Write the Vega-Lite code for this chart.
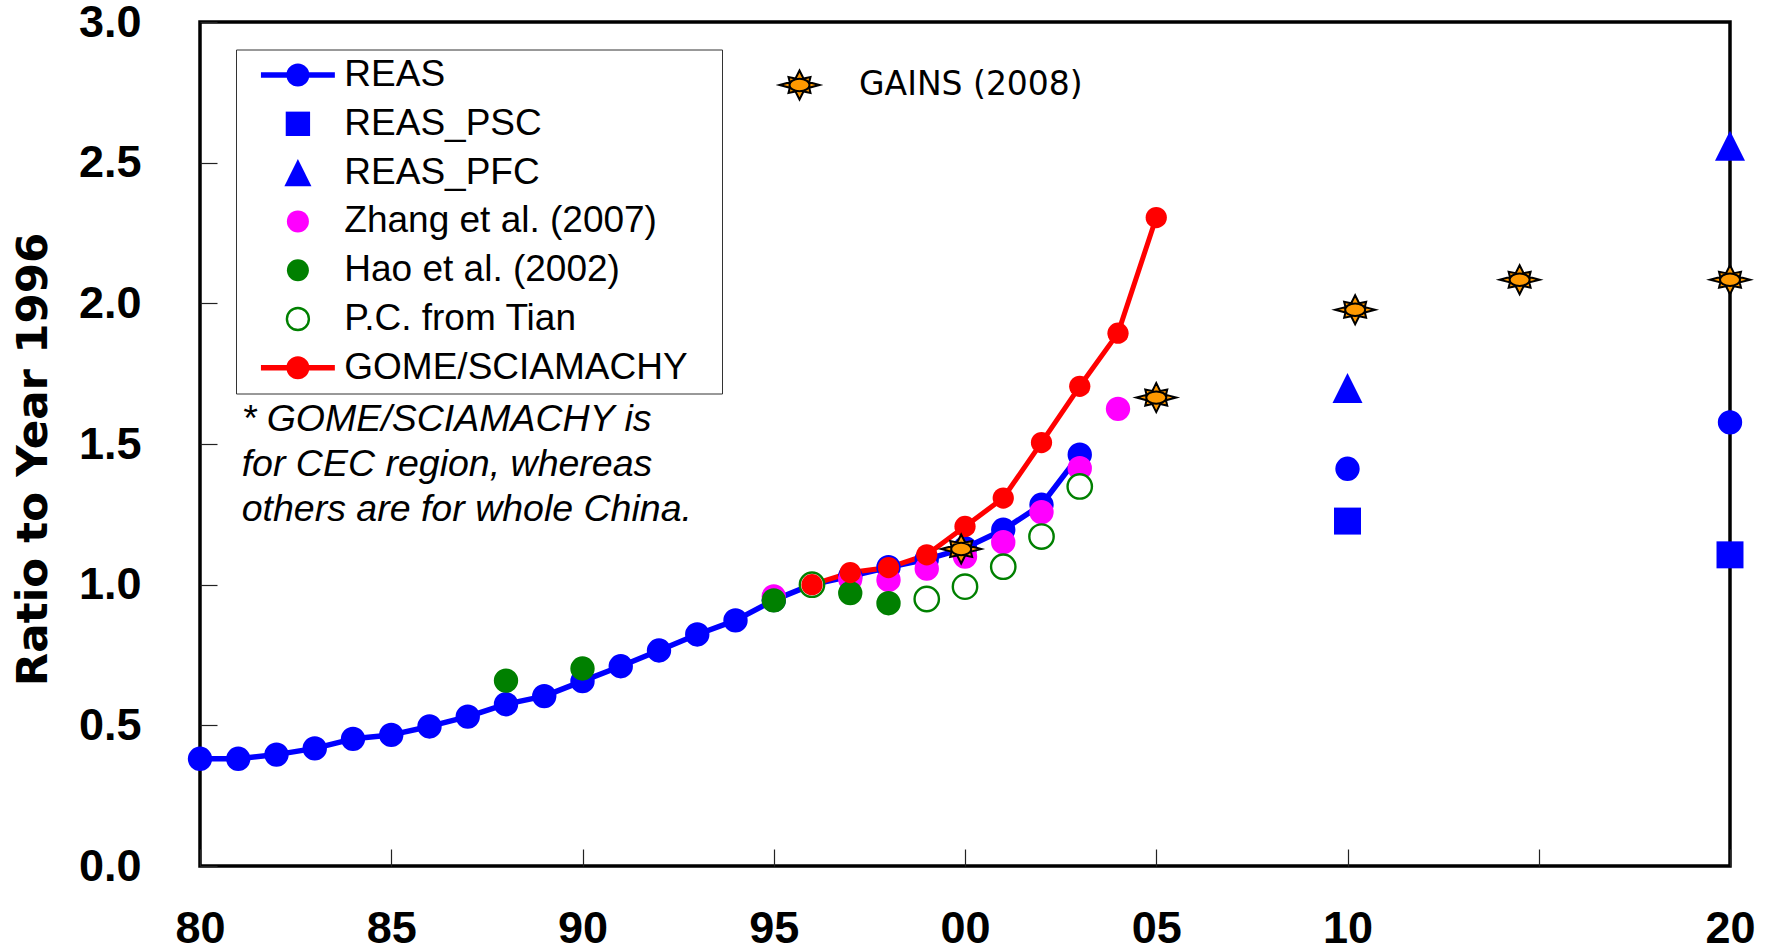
{
  "$schema": "https://vega.github.io/schema/vega-lite/v6.json",
  "width": 1530,
  "height": 844,
  "autosize": {"type": "none"},
  "padding": {"left": 200, "top": 22, "right": 37, "bottom": 85},
  "background": "white",
  "config": {
    "view": {"stroke": "black", "strokeWidth": 3.5},
    "axis": {"grid": false, "domain": false}
  },
  "datasets": {
    "pts": [
      {"series": "REAS", "year": 1980, "ratio": 0.381},
      {"series": "REAS", "year": 1981, "ratio": 0.381},
      {"series": "REAS", "year": 1982, "ratio": 0.396},
      {"series": "REAS", "year": 1983, "ratio": 0.418},
      {"series": "REAS", "year": 1984, "ratio": 0.452},
      {"series": "REAS", "year": 1985, "ratio": 0.466},
      {"series": "REAS", "year": 1986, "ratio": 0.496},
      {"series": "REAS", "year": 1987, "ratio": 0.531},
      {"series": "REAS", "year": 1988, "ratio": 0.575},
      {"series": "REAS", "year": 1989, "ratio": 0.604},
      {"series": "REAS", "year": 1990, "ratio": 0.657},
      {"series": "REAS", "year": 1991, "ratio": 0.71},
      {"series": "REAS", "year": 1992, "ratio": 0.766},
      {"series": "REAS", "year": 1993, "ratio": 0.823},
      {"series": "REAS", "year": 1994, "ratio": 0.873},
      {"series": "REAS", "year": 1995, "ratio": 0.945},
      {"series": "REAS", "year": 1996, "ratio": 1.0},
      {"series": "REAS", "year": 1997, "ratio": 1.03},
      {"series": "REAS", "year": 1998, "ratio": 1.062},
      {"series": "REAS", "year": 1999, "ratio": 1.09},
      {"series": "REAS", "year": 2000, "ratio": 1.13},
      {"series": "REAS", "year": 2001, "ratio": 1.195},
      {"series": "REAS", "year": 2002, "ratio": 1.284},
      {"series": "REAS", "year": 2003, "ratio": 1.462},
      {"series": "REAS", "year": 2010, "ratio": 1.412},
      {"series": "REAS", "year": 2020, "ratio": 1.577},
      {"series": "REAS_PSC", "year": 2010, "ratio": 1.226},
      {"series": "REAS_PSC", "year": 2020, "ratio": 1.106},
      {"series": "REAS_PFC", "year": 2010, "ratio": 1.699},
      {"series": "REAS_PFC", "year": 2020, "ratio": 2.56},
      {"series": "Zhang et al. (2007)", "year": 1995, "ratio": 0.958},
      {"series": "Zhang et al. (2007)", "year": 1996, "ratio": 1.0},
      {"series": "Zhang et al. (2007)", "year": 1997, "ratio": 1.02},
      {"series": "Zhang et al. (2007)", "year": 1998, "ratio": 1.017},
      {"series": "Zhang et al. (2007)", "year": 1999, "ratio": 1.057},
      {"series": "Zhang et al. (2007)", "year": 2000, "ratio": 1.1},
      {"series": "Zhang et al. (2007)", "year": 2001, "ratio": 1.151},
      {"series": "Zhang et al. (2007)", "year": 2002, "ratio": 1.258},
      {"series": "Zhang et al. (2007)", "year": 2003, "ratio": 1.414},
      {"series": "Zhang et al. (2007)", "year": 2004, "ratio": 1.625},
      {"series": "Hao et al. (2002)", "year": 1988, "ratio": 0.659},
      {"series": "Hao et al. (2002)", "year": 1990, "ratio": 0.702},
      {"series": "Hao et al. (2002)", "year": 1995, "ratio": 0.944},
      {"series": "Hao et al. (2002)", "year": 1996, "ratio": 1.0},
      {"series": "Hao et al. (2002)", "year": 1997, "ratio": 0.97},
      {"series": "Hao et al. (2002)", "year": 1998, "ratio": 0.934},
      {"series": "P.C. from Tian", "year": 1996, "ratio": 1.0},
      {"series": "P.C. from Tian", "year": 1999, "ratio": 0.949},
      {"series": "P.C. from Tian", "year": 2000, "ratio": 0.993},
      {"series": "P.C. from Tian", "year": 2001, "ratio": 1.064},
      {"series": "P.C. from Tian", "year": 2002, "ratio": 1.171},
      {"series": "P.C. from Tian", "year": 2003, "ratio": 1.349},
      {"series": "GOME/SCIAMACHY", "year": 1996, "ratio": 1.0},
      {"series": "GOME/SCIAMACHY", "year": 1997, "ratio": 1.043},
      {"series": "GOME/SCIAMACHY", "year": 1998, "ratio": 1.061},
      {"series": "GOME/SCIAMACHY", "year": 1999, "ratio": 1.106},
      {"series": "GOME/SCIAMACHY", "year": 2000, "ratio": 1.207},
      {"series": "GOME/SCIAMACHY", "year": 2001, "ratio": 1.308},
      {"series": "GOME/SCIAMACHY", "year": 2002, "ratio": 1.505},
      {"series": "GOME/SCIAMACHY", "year": 2003, "ratio": 1.705},
      {"series": "GOME/SCIAMACHY", "year": 2004, "ratio": 1.894},
      {"series": "GOME/SCIAMACHY", "year": 2005, "ratio": 2.305},
      {"series": "GAINS (2008)", "year": 1999.9, "ratio": 1.127},
      {"series": "GAINS (2008)", "year": 2005.0, "ratio": 1.665},
      {"series": "GAINS (2008)", "year": 2010.2, "ratio": 1.977},
      {"series": "GAINS (2008)", "year": 2014.5, "ratio": 2.084},
      {"series": "GAINS (2008)", "year": 2020, "ratio": 2.084}
    ]
  },
  "data": {"name": "pts"},
  "layer": [
    {
      "encoding": {
        "x": {
          "field": "year",
          "type": "quantitative",
          "scale": {"domain": [1980, 2020], "nice": false, "zero": false},
          "axis": {
            "values": [1980, 1985, 1990, 1995, 2000, 2005, 2010, 2015, 2020],
            "format": "d",
            "labelExpr": "datum.value == 2015 ? '' : substring(datum.label, 2, 4)",
            "title": null,
            "domain": false,
            "grid": false,
            "tickSize": -17,
            "tickColor": "#222222",
            "tickWidth": 1.2,
            "labelPadding": 57,
            "labelBaseline": "top",
            "labelFont": "Liberation Sans",
            "labelFontWeight": "bold",
            "labelFontSize": 45,
            "labelColor": "black",
            "labelFlush": false,
            "labelOverlap": false
          }
        },
        "y": {
          "field": "ratio",
          "type": "quantitative",
          "scale": {"domain": [0, 3], "nice": false, "zero": true},
          "axis": {
            "values": [0, 0.5, 1, 1.5, 2, 2.5, 3],
            "format": ".1f",
            "title": "Ratio to Year 1996",
            "titleFont": "DejaVu Sans",
            "titleFontWeight": "bold",
            "titleFontSize": 43.5,
            "titleColor": "black",
            "titleAngle": 270,
            "titleAlign": "center",
            "titleBaseline": "middle",
            "titleX": -166.5,
            "titleY": 437,
            "domain": false,
            "grid": false,
            "tickSize": -17,
            "tickColor": "#222222",
            "tickWidth": 1.2,
            "labelPadding": 76,
            "labelFont": "Liberation Sans",
            "labelFontWeight": "bold",
            "labelFontSize": 45,
            "labelColor": "black",
            "labelFlush": false,
            "labelOverlap": false
          }
        }
      },
      "layer": [
        {
          "layer": [
            {
              "transform": [{"filter": "datum.series === 'REAS' && datum.year <= 2003"}],
              "mark": {"type": "line", "color": "#0000FF", "strokeWidth": 5.5, "strokeCap": "round", "strokeJoin": "round"},
              "encoding": {}
            },
            {
              "transform": [{"filter": "datum.series === 'GOME/SCIAMACHY'"}],
              "mark": {"type": "line", "color": "#FF0000", "strokeWidth": 5, "strokeCap": "round", "strokeJoin": "round"},
              "encoding": {}
            },
            {
              "transform": [{"filter": "datum.series === 'REAS'"}],
              "mark": {"type": "point", "shape": "circle", "size": 594, "strokeWidth": 2.4, "opacity": 1},
              "encoding": {
                "fill": {
                  "field": "series",
                  "type": "nominal",
                  "scale": {
                    "domain": ["REAS", "REAS_PSC", "REAS_PFC", "Zhang et al. (2007)", "Hao et al. (2002)", "P.C. from Tian", "GOME/SCIAMACHY"],
                    "range": ["#0000FF", "#0000FF", "#0000FF", "#FF00FF", "#008000", "#FFFFFF", "#FF0000"]
                  },
                  "legend": {
                    "orient": "none",
                    "legendX": 36,
                    "legendY": 27.5,
                    "title": null,
                    "padding": 7,
                    "strokeColor": "#333333",
                    "fillColor": "white",
                    "labelFont": "Liberation Sans",
                    "labelFontSize": 37,
                    "labelColor": "black",
                    "labelLimit": 1000,
                    "labelExpr": "datum.label === 'GOME/SCIAMACHY' ? datum.label + '\u2800' : datum.label",
                    "symbolOffset": 36.4,
                    "labelOffset": 27.9,
                    "rowPadding": 10.8,
                    "symbolSize": 484,
                    "symbolStrokeWidth": 2.4
                  }
                },
                "stroke": {
                  "field": "series",
                  "type": "nominal",
                  "scale": {
                    "domain": ["REAS", "REAS_PSC", "REAS_PFC", "Zhang et al. (2007)", "Hao et al. (2002)", "P.C. from Tian", "GOME/SCIAMACHY"],
                    "range": ["transparent", "transparent", "transparent", "transparent", "transparent", "#008000", "transparent"]
                  }
                }
              }
            },
            {
              "transform": [{"filter": "datum.series !== 'REAS' && datum.series !== 'GOME/SCIAMACHY' && datum.series !== 'GAINS (2008)'"}],
              "mark": {"type": "point", "size": 594, "strokeWidth": 2.4, "opacity": 1},
              "encoding": {
                "fill": {
                  "field": "series",
                  "type": "nominal",
                  "scale": {
                    "domain": ["REAS", "REAS_PSC", "REAS_PFC", "Zhang et al. (2007)", "Hao et al. (2002)", "P.C. from Tian", "GOME/SCIAMACHY"],
                    "range": ["#0000FF", "#0000FF", "#0000FF", "#FF00FF", "#008000", "#FFFFFF", "#FF0000"]
                  }
                },
                "stroke": {
                  "field": "series",
                  "type": "nominal",
                  "scale": {
                    "domain": ["REAS", "REAS_PSC", "REAS_PFC", "Zhang et al. (2007)", "Hao et al. (2002)", "P.C. from Tian", "GOME/SCIAMACHY"],
                    "range": ["transparent", "transparent", "transparent", "transparent", "transparent", "#008000", "transparent"]
                  }
                },
                "shape": {
                  "field": "series",
                  "type": "nominal",
                  "scale": {
                    "domain": ["REAS", "REAS_PSC", "REAS_PFC", "Zhang et al. (2007)", "Hao et al. (2002)", "P.C. from Tian", "GOME/SCIAMACHY"],
                    "range": [
                      "M-3.36,-0.25 H3.36 V0.25 H-3.36 Z M1.05,0 A1.05,1.05 0 1 1 -1.05,0 A1.05,1.05 0 1 1 1.05,0 Z",
                      "M-1.107,-1.107 H1.107 V1.107 H-1.107 Z",
                      "M0,-1.23 L1.23,1.23 L-1.23,1.23 Z",
                      "circle",
                      "circle",
                      "circle",
                      "M-3.36,-0.25 H3.36 V0.25 H-3.36 Z M1.05,0 A1.05,1.05 0 1 1 -1.05,0 A1.05,1.05 0 1 1 1.05,0 Z"
                    ]
                  }
                }
              }
            },
            {
              "transform": [{"filter": "datum.series === 'GOME/SCIAMACHY'"}],
              "mark": {"type": "point", "shape": "circle", "size": 452, "strokeWidth": 2.4, "opacity": 1},
              "encoding": {
                "fill": {
                  "field": "series",
                  "type": "nominal",
                  "scale": {
                    "domain": ["REAS", "REAS_PSC", "REAS_PFC", "Zhang et al. (2007)", "Hao et al. (2002)", "P.C. from Tian", "GOME/SCIAMACHY"],
                    "range": ["#0000FF", "#0000FF", "#0000FF", "#FF00FF", "#008000", "#FFFFFF", "#FF0000"]
                  }
                },
                "stroke": {
                  "field": "series",
                  "type": "nominal",
                  "scale": {
                    "domain": ["REAS", "REAS_PSC", "REAS_PFC", "Zhang et al. (2007)", "Hao et al. (2002)", "P.C. from Tian", "GOME/SCIAMACHY"],
                    "range": ["transparent", "transparent", "transparent", "transparent", "transparent", "#008000", "transparent"]
                  }
                }
              }
            }
          ]
        },
        {
          "transform": [{"filter": "datum.series === 'GAINS (2008)'"}],
          "mark": {
            "type": "point",
            "size": 400,
            "shape": "M2,0 L0.97,0.27 L1.1,0.8 L0.4,0.65 L0,1.45 L-0.4,0.65 L-1.1,0.8 L-0.97,0.27 L-2,0 L-0.97,-0.27 L-1.1,-0.8 L-0.4,-0.65 L0,-1.45 L0.4,-0.65 L1.1,-0.8 L0.97,-0.27 Z M1,0 A1,0.62 0 1 1 -1,0 A1,0.62 0 1 1 1,0 Z",
            "stroke": "black",
            "strokeWidth": 2,
            "opacity": 1,
            "filled": true
          },
          "encoding": {
            "fill": {
              "field": "series",
              "type": "nominal",
              "scale": {"domain": ["GAINS (2008)"], "range": ["#FF9900"]},
              "legend": {
                "orient": "none",
                "legendX": 581,
                "legendY": 46.5,
                "title": null,
                "padding": 0,
                "labelFont": "DejaVu Sans",
                "labelFontSize": 33,
                "labelColor": "black",
                "labelLimit": 1000,
                "symbolSize": 400,
                "symbolType": "M2,0 L0.97,0.27 L1.1,0.8 L0.4,0.65 L0,1.45 L-0.4,0.65 L-1.1,0.8 L-0.97,0.27 L-2,0 L-0.97,-0.27 L-1.1,-0.8 L-0.4,-0.65 L0,-1.45 L0.4,-0.65 L1.1,-0.8 L0.97,-0.27 Z M1,0 A1,0.62 0 1 1 -1,0 A1,0.62 0 1 1 1,0 Z",
                "symbolStrokeColor": "black",
                "symbolStrokeWidth": 2,
                "symbolOffset": 2,
                "labelOffset": 43
              }
            }
          }
        }
      ],
      "resolve": {
        "scale": {"fill": "independent", "stroke": "independent", "shape": "independent"},
        "legend": {"fill": "independent", "stroke": "independent", "shape": "independent"}
      }
    },
    {
      "data": {"values": [{"note": "scope"}]},
      "mark": {
        "type": "text",
        "align": "left",
        "baseline": "middle",
        "font": "Liberation Sans",
        "fontStyle": "italic",
        "fontSize": 37.5,
        "lineHeight": 45,
        "fill": "black"
      },
      "encoding": {
        "x": {"datum": 1981.09},
        "y": {"datum": 1.586},
        "text": {"value": ["* GOME/SCIAMACHY is", "for CEC region, whereas", "others are for whole China."]}
      }
    }
  ]
}
